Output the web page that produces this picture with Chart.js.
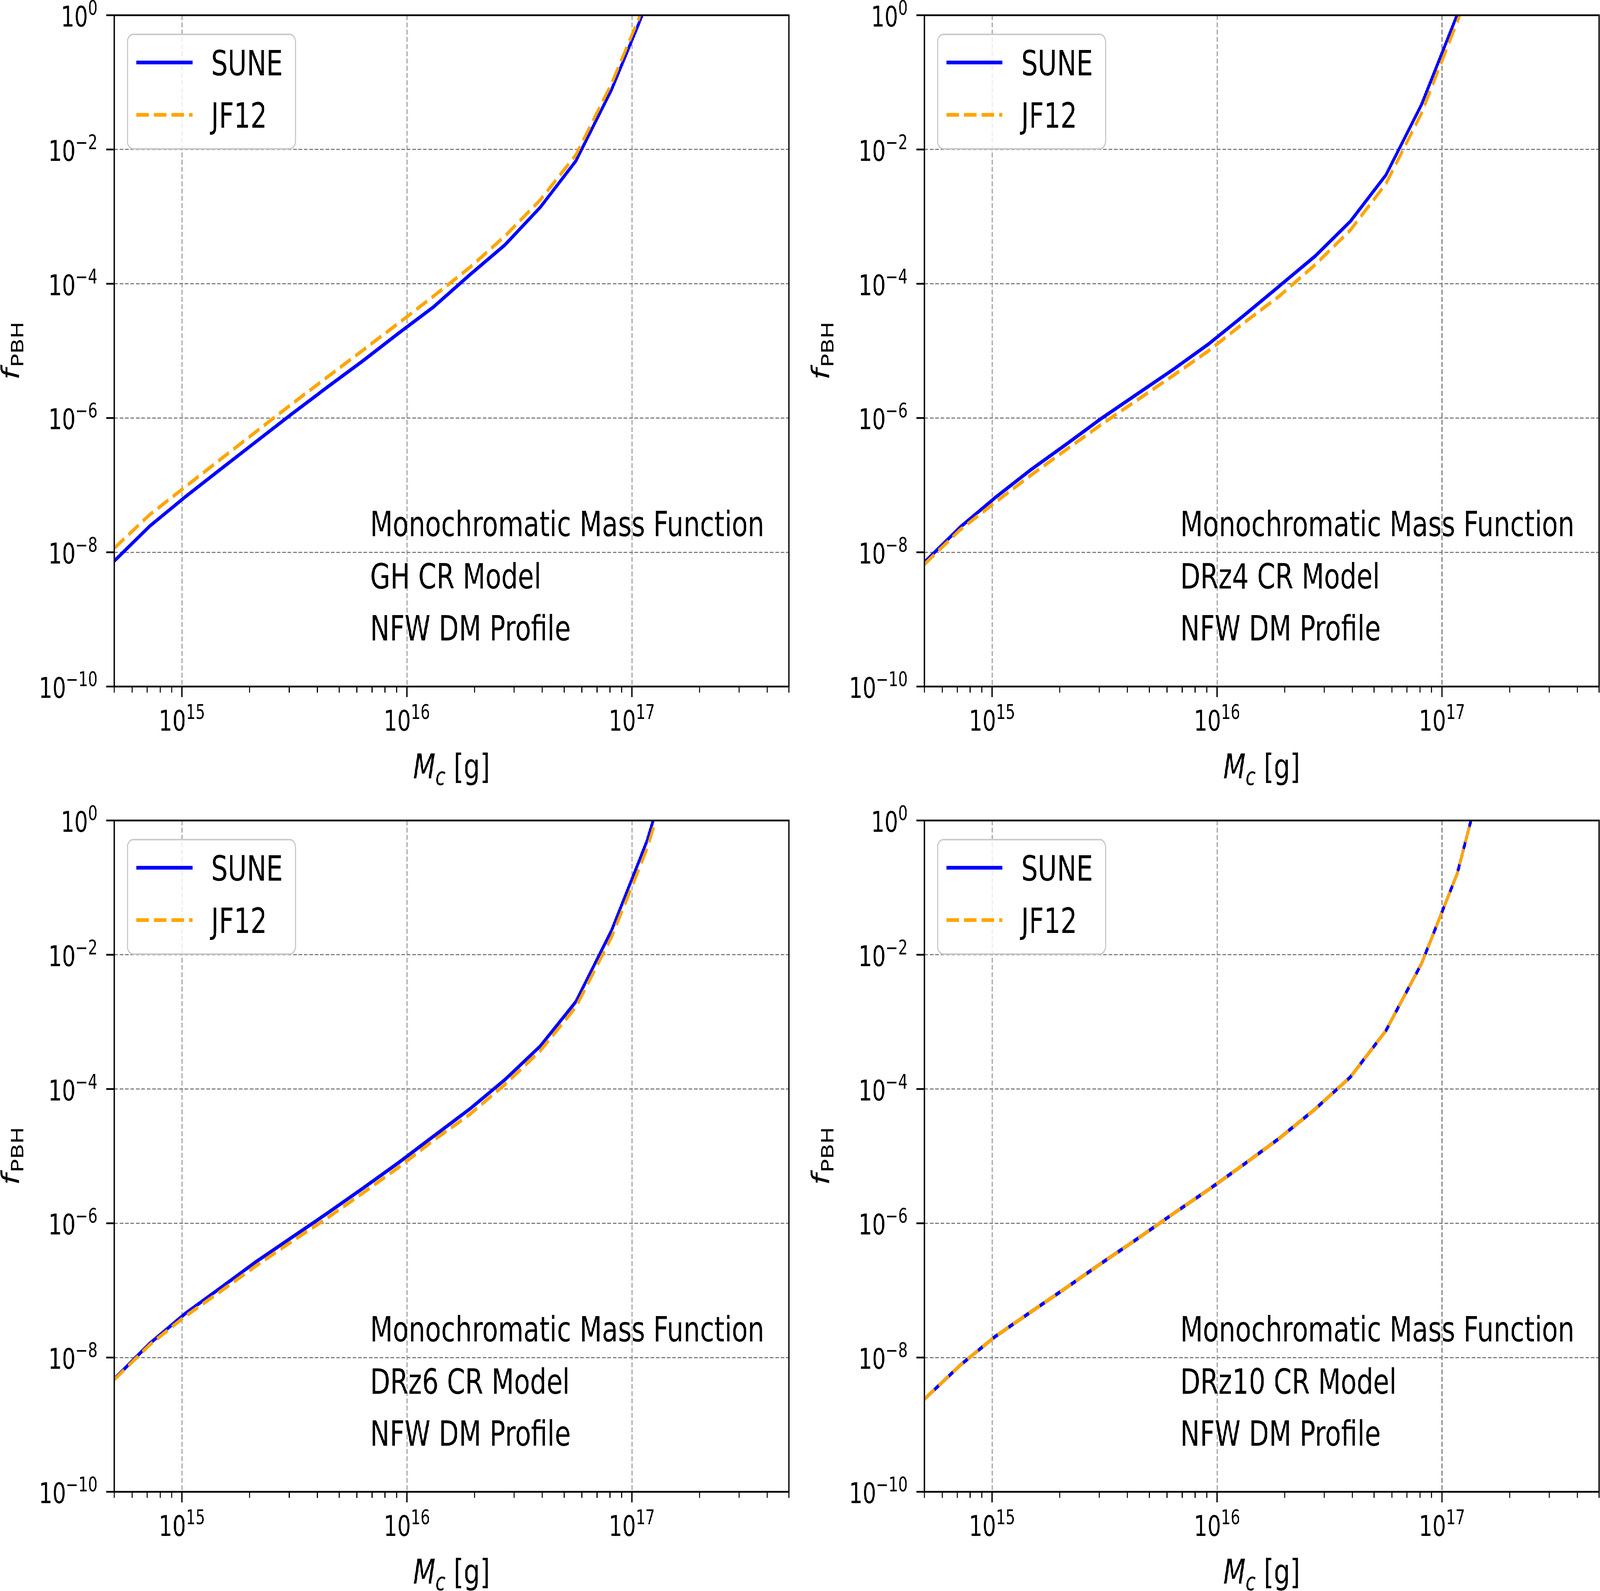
<!DOCTYPE html>
<html>
<head>
<meta charset="utf-8">
<title>f_PBH vs M_c</title>
<script src="https://cdn.jsdelivr.net/npm/chart.js@4.4.1/dist/chart.umd.min.js"></script>
<style>
  html, body { margin: 0; padding: 0; background: #fff; overflow: hidden; }
  #figure { position: relative; width: 5463px; height: 4074px; background: #fff; transform-origin: 0 0; }
  #figure canvas { position: absolute; }
</style>
</head>
<body>
<div id="figure"></div>
<script>
// masses of the evaluated points [g]
const masses = [5.00e14, 7.19e14, 1.03e15, 1.49e15, 2.14e15, 3.08e15, 4.43e15, 6.37e15, 9.16e15,
  1.32e16, 1.90e16, 2.73e16, 3.92e16, 5.64e16, 8.12e16, 1.17e17, 1.68e17]

// f_PBH upper limits, one pair of series per CR model
const suneGH = [7.41e-9, 2.45e-8, 6.61e-8, 1.74e-7, 4.47e-7, 1.15e-6, 2.88e-6, 7.08e-6, 1.82e-5,
  4.57e-5, 1.35e-4, 3.80e-4, 1.38e-3, 6.76e-3, 7.76e-2, 1.51, 30]
const jf12GH = [1.15e-8, 3.63e-8, 9.33e-8, 2.45e-7, 6.31e-7, 1.62e-6, 4.07e-6, 1.02e-5, 2.57e-5,
  6.61e-5, 1.74e-4, 5.13e-4, 1.78e-3, 8.32e-3, 9.55e-2, 1.78, 40]

const suneDRz4 = [7.08e-9, 2.34e-8, 6.46e-8, 1.70e-7, 4.07e-7, 1.00e-6, 2.29e-6, 5.25e-6, 1.26e-5,
  3.39e-5, 9.33e-5, 2.57e-4, 8.51e-4, 4.17e-3, 4.68e-2, 1.02, 25]
const jf12DRz4 = [6.61e-9, 2.14e-8, 5.50e-8, 1.41e-7, 3.39e-7, 8.13e-7, 1.86e-6, 4.27e-6, 1.00e-5,
  2.63e-5, 6.61e-5, 1.91e-4, 6.31e-4, 3.09e-3, 3.47e-2, 0.794, 20]

const suneDRz6 = [4.79e-9, 1.62e-8, 4.47e-8, 1.10e-7, 2.69e-7, 6.17e-7, 1.41e-6, 3.31e-6, 7.94e-6,
  2.00e-5, 5.01e-5, 1.38e-4, 4.37e-4, 2.00e-3, 2.29e-2, 0.501, 27.5]
const jf12DRz6 = [4.68e-9, 1.55e-8, 4.07e-8, 9.77e-8, 2.34e-7, 5.37e-7, 1.20e-6, 2.82e-6, 6.76e-6,
  1.74e-5, 4.17e-5, 1.17e-4, 3.72e-4, 1.66e-3, 1.82e-2, 0.380, 20]

const suneDRz10 = [2.40e-9, 7.59e-9, 2.04e-8, 4.79e-8, 1.10e-7, 2.57e-7, 5.89e-7, 1.38e-6, 3.16e-6,
  7.59e-6, 1.86e-5, 5.01e-5, 1.51e-4, 7.41e-4, 7.41e-3, 0.162, 17.8]
const jf12DRz10 = [2.40e-9, 7.59e-9, 2.04e-8, 4.79e-8, 1.10e-7, 2.57e-7, 5.89e-7, 1.38e-6, 3.16e-6,
  7.59e-6, 1.86e-5, 5.01e-5, 1.51e-4, 7.41e-4, 7.41e-3, 0.162, 17.8]

const seriesNames = ['SUNE', 'JF12']
const modelNames = ['GH CR Model', 'DRz4 CR Model', 'DRz6 CR Model', 'DRz10 CR Model']
const textLines = ['Monochromatic Mass Function', null, 'NFW DM Profile']

const xMajorTicks = [1e15, 1e16, 1e17]
const xMinorTicks = [5e14, 6e14, 7e14, 8e14, 9e14,
  2e15, 3e15, 4e15, 5e15, 6e15, 7e15, 8e15, 9e15,
  2e16, 3e16, 4e16, 5e16, 6e16, 7e16, 8e16, 9e16,
  2e17, 3e17, 4e17, 5e17]
const yTicks = [1e-10, 1e-8, 1e-6, 1e-4, 1e-2, 1]

// ---------- layout (pixels of the 5463x4074 figure) ----------
const FIG_W = 5463
const FIG_H = 4074
const PLOT_LEFT = 390
const PLOT_TOP = 39
const PLOT_W = 2304
const PLOT_H = 1719
const FONT = '"DejaVu Sans", sans-serif'

const panels = [
  { sune: suneGH, jf12: jf12GH, model: modelNames[0], left: 0, top: 0, width: 2766, height: 2062 },
  { sune: suneDRz4, jf12: jf12DRz4, model: modelNames[1], left: 2766, top: 0, width: 2697, height: 2062 },
  { sune: suneDRz6, jf12: jf12DRz6, model: modelNames[2], left: 0, top: 2062, width: 2766, height: 2012 },
  { sune: suneDRz10, jf12: jf12DRz10, model: modelNames[3], left: 2766, top: 2062, width: 2697, height: 2012 }
]

const expText = (v) => {
  const e = Math.round(Math.log10(v))
  return e < 0 ? '\u2212' + (-e) : String(e)
}

// "10" with a raised exponent, like matplotlib mathtext
const drawPower = (ctx, value, x, y, align) => {
  const base = '10'
  const sup = expText(value)
  ctx.font = `73px ${FONT}`
  const wb = ctx.measureText(base).width
  ctx.font = `51px ${FONT}`
  const ws = ctx.measureText(sup).width
  let x0 = x
  if (align === 'right') x0 = x - wb - ws
  if (align === 'center') x0 = x - (wb + ws) / 2
  ctx.textAlign = 'left'
  ctx.textBaseline = 'alphabetic'
  ctx.font = `73px ${FONT}`
  ctx.fillText(base, x0, y)
  ctx.font = `51px ${FONT}`
  ctx.fillText(sup, x0 + wb, y - 30)
}

const axesDecor = {
  id: 'axesDecor',
  afterDraw(chart, args, opts) {
    const { ctx, chartArea: a } = chart
    const xs = chart.scales.x
    const ys = chart.scales.y
    ctx.save()
    ctx.fillStyle = '#000'
    ctx.strokeStyle = '#000'

    // tick marks
    xs.ticks.forEach((t) => {
      const px = xs.getPixelForValue(t.value)
      ctx.lineWidth = t.major ? 4.5 : 3.5
      ctx.beginPath()
      ctx.moveTo(px, a.bottom)
      ctx.lineTo(px, a.bottom + (t.major ? 27 : 15.5))
      ctx.stroke()
    })
    ys.ticks.forEach((t) => {
      const py = ys.getPixelForValue(t.value)
      ctx.lineWidth = 4.5
      ctx.beginPath()
      ctx.moveTo(a.left - 27, py)
      ctx.lineTo(a.left, py)
      ctx.stroke()
    })

    // spines
    ctx.lineWidth = 4.5
    ctx.strokeRect(a.left, a.top, a.right - a.left, a.bottom - a.top)

    // tick labels
    xs.ticks.filter((t) => t.major).forEach((t) => {
      drawPower(ctx, t.value, xs.getPixelForValue(t.value), a.bottom + 113, 'center')
    })
    ys.ticks.forEach((t) => {
      drawPower(ctx, t.value, a.left - 57, ys.getPixelForValue(t.value) + 29, 'right')
    })

    // x title: M_c [g]
    ctx.textAlign = 'left'
    ctx.font = `italic 88px ${FONT}`
    const wM = ctx.measureText('M').width
    ctx.font = `italic 62px ${FONT}`
    const wc = ctx.measureText('c').width
    ctx.font = `88px ${FONT}`
    const wg = ctx.measureText(' [g]').width
    const tx = (a.left + a.right) / 2 - (wM + wc + wg) / 2
    const ty = a.bottom + 235
    ctx.font = `italic 88px ${FONT}`
    ctx.fillText('M', tx, ty)
    ctx.font = `italic 62px ${FONT}`
    ctx.fillText('c', tx + wM, ty + 17)
    ctx.font = `88px ${FONT}`
    ctx.fillText(' [g]', tx + wM + wc, ty)

    // y title: f_PBH
    ctx.save()
    ctx.translate(64, (a.top + a.bottom) / 2)
    ctx.rotate(-Math.PI / 2)
    ctx.font = `italic 82px ${FONT}`
    const wf = ctx.measureText('f').width + 4
    ctx.font = `57px ${FONT}`
    const wp = ctx.measureText('PBH').width
    ctx.font = `italic 82px ${FONT}`
    ctx.fillText('f', -(wf + wp) / 2, 0)
    ctx.font = `57px ${FONT}`
    ctx.fillText('PBH', -(wf + wp) / 2 + wf, 16)
    ctx.restore()

    // text block
    ctx.font = `89px ${FONT}`
    const lines = textLines.map((s) => s === null ? opts.model : s)
    const offsets = [385, 251, 118]
    lines.forEach((s, i) => ctx.fillText(s, a.left + 874, a.bottom - offsets[i]))

    // legend
    const bx = a.left + 45
    const by = a.top + 49
    ctx.beginPath()
    ctx.roundRect(bx, by, 574, 293, 20)
    ctx.fillStyle = 'rgba(255,255,255,0.8)'
    ctx.fill()
    ctx.lineWidth = 4
    ctx.strokeStyle = '#cccccc'
    ctx.stroke()
    const rows = [121, 255]
    seriesNames.forEach((name, i) => {
      const ds = chart.data.datasets.find((d) => d.label === name)
      const ry = a.top + rows[i]
      ctx.beginPath()
      ctx.setLineDash(ds.borderDash || [])
      ctx.lineWidth = ds.borderWidth
      ctx.strokeStyle = ds.borderColor
      ctx.moveTo(a.left + 76, ry)
      ctx.lineTo(a.left + 267, ry)
      ctx.stroke()
      ctx.setLineDash([])
      ctx.fillStyle = '#000'
      ctx.font = `89px ${FONT}`
      ctx.fillText(name, a.left + 331, ry + 33)
    })
    ctx.restore()
  }
}

const toPoints = (vals) => vals.map((v, i) => ({ x: masses[i], y: v }))

const createPanel = (p) => {
  const figure = document.getElementById('figure')
  const canvas = document.createElement('canvas')
  canvas.width = p.width
  canvas.height = p.height
  canvas.style.left = p.left + 'px'
  canvas.style.top = p.top + 'px'
  canvas.style.width = p.width + 'px'
  canvas.style.height = p.height + 'px'
  figure.appendChild(canvas)

  const config = {
    type: 'line',
    data: {
      datasets: [
        { label: seriesNames[0], data: toPoints(p.sune), borderColor: 'blue', borderWidth: 9.5,
          pointRadius: 0, tension: 0, fill: false, clip: 0, borderJoinStyle: 'round', order: 1 },
        { label: seriesNames[1], data: toPoints(p.jf12), borderColor: 'orange', borderWidth: 9.5,
          borderDash: [42, 18], pointRadius: 0, tension: 0, fill: false, clip: 0, borderJoinStyle: 'round', order: 0 }
      ]
    },
    options: {
      responsive: false,
      animation: false,
      devicePixelRatio: 1,
      events: [],
      layout: { padding: { top: PLOT_TOP, right: p.width - PLOT_LEFT - PLOT_W, left: 0, bottom: 0 } },
      plugins: {
        legend: { display: false },
        tooltip: { enabled: false },
        axesDecor: { model: p.model }
      },
      scales: {
        x: {
          type: 'logarithmic',
          min: 5e14,
          max: 5e17,
          bounds: 'data',
          afterBuildTicks: (s) => {
            s.ticks = xMinorTicks.concat(xMajorTicks).sort((u, v) => u - v)
              .map((v) => ({ value: v, major: xMajorTicks.includes(v) }))
          },
          afterFit: (s) => { s.height = p.height - PLOT_TOP - PLOT_H },
          ticks: { display: false },
          grid: {
            color: (c) => (c.tick && c.tick.major) ? '#808080' : 'rgba(0,0,0,0)',
            lineWidth: 3,
            drawTicks: false
          },
          border: { display: false, dash: [12.5, 6] }
        },
        y: {
          type: 'logarithmic',
          min: 1e-10,
          max: 1,
          bounds: 'data',
          afterBuildTicks: (s) => { s.ticks = yTicks.map((v) => ({ value: v, major: true })) },
          afterFit: (s) => { s.width = PLOT_LEFT },
          ticks: { display: false },
          grid: { color: '#808080', lineWidth: 3, drawTicks: false },
          border: { display: false, dash: [12.5, 6] }
        }
      }
    },
    plugins: [axesDecor]
  }
  return new Chart(canvas, config)
}

// the window may be narrower than the figure: fit the figure to it
const fitFigure = () => {
  const fig = document.getElementById('figure')
  const sx = Math.min(1, window.innerWidth / FIG_W)
  const sy = Math.min(1, window.innerHeight / FIG_H)
  fig.style.transform = `scale(${sx}, ${sy})`
}

fitFigure()
panels.forEach((p) => createPanel(p))
</script>
</body>
</html>
